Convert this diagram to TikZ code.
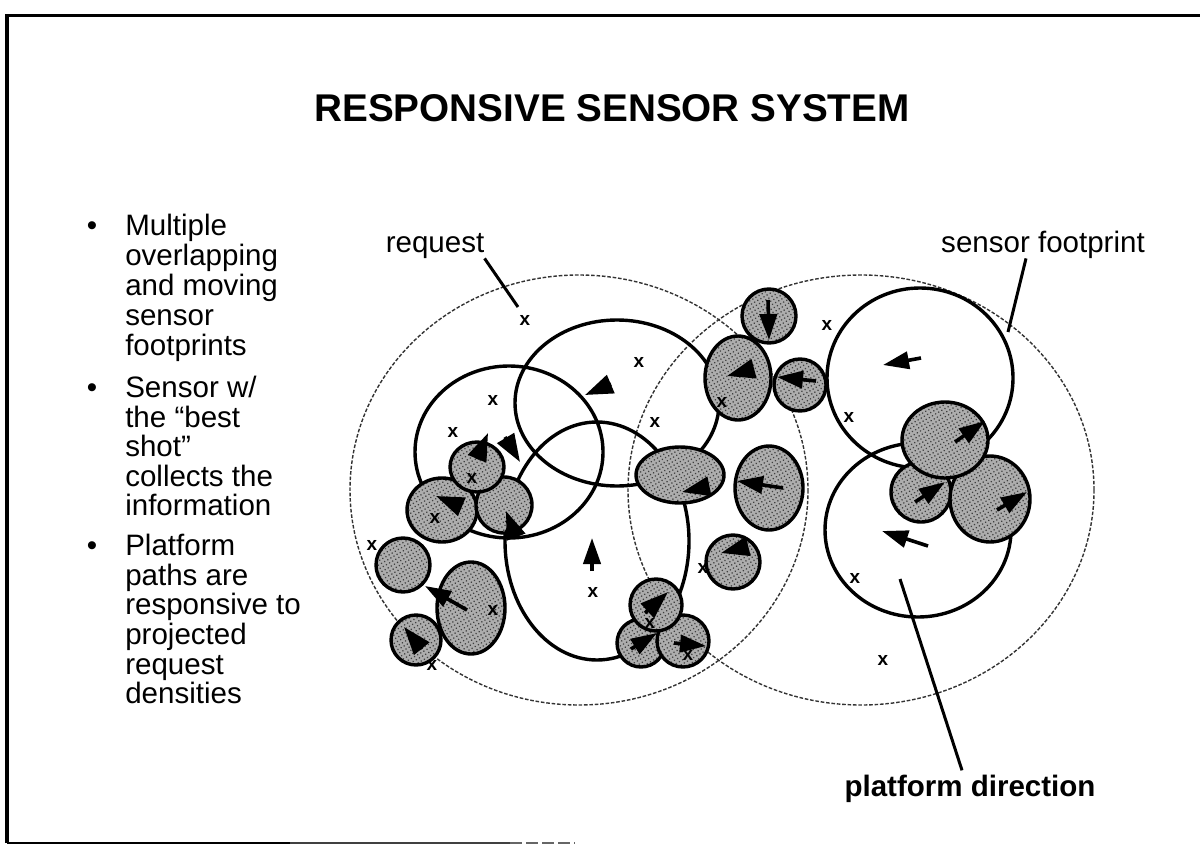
\documentclass[tikz,border=0pt]{standalone}
\usepackage{fontspec}
\setmainfont{Liberation Sans}
\usetikzlibrary{arrows.meta,calc,patterns.meta}
\begin{document}
\begin{tikzpicture}[x=0.025cm,y=-0.025cm,
  bigc/.style={draw=black!80,line width=0.35mm,dash pattern=on 0.9mm off 0.45mm},
  foot/.style={draw=black,line width=0.85mm},
  shd/.style={draw=black,line width=0.85mm,preaction={fill=black!32},
    pattern={Dots[radius=0.22mm,distance=0.9mm,angle=30]},pattern color=black!75},
  arr/.style={line width=0.9mm,-{Triangle[length=6.5mm,width=4.3mm]}},
  tri/.style={line width=0.9mm,-{Triangle[length=7mm,width=4.8mm]}},
  ptr/.style={line width=0.75mm},
  xm/.style={font=\fontsize{13.5pt}{13.5pt}\selectfont\bfseries,inner sep=0pt},
  body/.style={font=\fontsize{21pt}{21pt}\selectfont,inner sep=0pt,anchor=base west},
  bul/.style={font=\fontsize{21pt}{21pt}\selectfont,inner sep=0pt,anchor=base},
  lab/.style={font=\fontsize{21pt}{21pt}\selectfont,inner sep=0pt,anchor=base},
]
\useasboundingbox (0,0) rectangle (1200,846);
\fill[white] (0,0) rectangle (1200,846);
% frame
\draw[line width=0.75mm] (7,843) -- (7,16) -- (1200,16);
\draw[line width=0.6mm] (7,843) -- (290,843);
\draw[line width=0.45mm,black!75] (290,843) -- (510,843);
\draw[line width=0.4mm,black!60,dash pattern=on 3mm off 1mm] (510,843) -- (575,843);

% big footprint areas
\draw[bigc] (579,490) ellipse [x radius=229, y radius=215];
\draw[bigc] (861,490) ellipse [x radius=233, y radius=215];

% sensor footprints
\draw[foot] (509,452) ellipse [x radius=94, y radius=86];
\draw[foot] (617,403) ellipse [x radius=102, y radius=83];
\draw[foot] (597,541) ellipse [x radius=92, y radius=119];
\draw[foot] (920,378) ellipse [x radius=93, y radius=90];
\draw[foot] (918,530) ellipse [x radius=93, y radius=87];

% shaded sensors
\draw[shd] (442,510) ellipse [x radius=35, y radius=32];
\draw[shd] (504,505) ellipse [x radius=28, y radius=28];
\draw[shd] (477,467) ellipse [x radius=27, y radius=25];
\draw[shd] (403,565) ellipse [x radius=27, y radius=27];
\draw[shd] (471,608) ellipse [x radius=34, y radius=46];
\draw[shd] (416,640) ellipse [x radius=25, y radius=25];
\draw[shd] (641,643) ellipse [x radius=24, y radius=24];
\draw[shd] (683,641) ellipse [x radius=26, y radius=26];
\draw[shd] (656,605) ellipse [x radius=26, y radius=26];
\draw[shd] (680,475) ellipse [x radius=44, y radius=28];
\draw[shd] (769,488) ellipse [x radius=34, y radius=42];
\draw[shd] (733,562) ellipse [x radius=27, y radius=27];
\draw[shd] (769,316) ellipse [x radius=27, y radius=27];
\draw[shd] (738,378) ellipse [x radius=33, y radius=42];
\draw[shd] (800,385) ellipse [x radius=26, y radius=26];
\draw[shd] (921,492) ellipse [x radius=30, y radius=30];
\draw[shd] (990,499) ellipse [x radius=40, y radius=43];
\draw[shd] (945,440) ellipse [x radius=43, y radius=38];

% direction arrows (heads only)
\draw[tri] (611,384) -- (585,395);
\draw[tri] (505,437) -- (520,462);
\draw[tri] (477,459) -- (488,433);
\draw[tri] (460,506) -- (436,496);
\draw[tri] (516,537) -- (506,511);
\draw[tri] (422,649) -- (404,627);
\draw[tri] (645,613) -- (668,592);
\draw[tri] (706,487) -- (682,492);
\draw[tri] (745,547) -- (721,553);
\draw[tri] (753,369) -- (727,376);
% direction arrows (with shafts)
\draw[arr] (467,610) -- (425,586);
\draw[arr] (592,571) -- (592,538);
\draw[arr] (631,649) -- (657,633);
\draw[arr] (674,643) -- (706,646);
\draw[arr] (783,488) -- (737,481);
\draw[arr] (768,300) -- (769,340);
\draw[arr] (816,381) -- (777,377);
\draw[arr] (921,358) -- (883,365);
\draw[arr] (955,442) -- (985,421);
\draw[arr] (915,502) -- (945,482);
\draw[arr] (997,510) -- (1027,492);
\draw[arr] (928,546) -- (882,531);

% requests
\foreach \px/\py [count=\k] in {525/320,639/362,493/400,453/432,655/422,472/478,435/518,
  827/325,849/417,722/402,372/545,493/610,432/665,593/592,650/623,688/655,703/568,
  855/578,883/660,510/526}
  \node[xm] (x\k) at (\px,\py) {x};

% labels and pointers
\node[lab] (req) at (435,252) {request};
\coordinate (reqend) at (518,307);
\draw[ptr] (req.south east) -- (reqend);

\node[lab] (sf) at (1043,252) {sensor footprint};
\coordinate (sfend) at (1008,332);
\draw[ptr] ($(sf.south)+(-17,0)$) -- (sfend);

\node[lab,font=\fontsize{21pt}{21pt}\selectfont\bfseries] (pd) at (970,796) {platform direction};
\coordinate (pdstart) at (900,579);
\draw[ptr] (pdstart) -- ($(pd.north)+(-8,-4)$);

% title
\node[anchor=base,inner sep=0pt,font=\fontsize{27.5pt}{28pt}\selectfont\bfseries] (title) at (612,122) {RESPONSIVE SENSOR SYSTEM};

% bullet text
\node[bul] (b1) at (92,235) {•};
\node[bul] (b2) at (92,397) {•};
\node[bul] (b3) at (92,555) {•};
\node[body] (t1) at (125,235) {Multiple};
\node[body] (t2) at (125,265) {overlapping};
\node[body] (t3) at (125,295) {and moving};
\node[body] (t4) at (125,325) {sensor};
\node[body] (t5) at (125,355) {footprints};
\node[body] (t6) at (125,397) {Sensor w/};
\node[body] (t7) at (125,427) {the “best};
\node[body] (t8) at (125,456) {shot”};
\node[body] (t9) at (125,486) {collects the};
\node[body] (t10) at (125,515) {information};
\node[body] (t11) at (125,555) {Platform};
\node[body] (t12) at (125,585) {paths are};
\node[body] (t13) at (125,614) {responsive to};
\node[body] (t14) at (125,644) {projected};
\node[body] (t15) at (125,674) {request};
\node[body] (t16) at (125,703) {densities};
\end{tikzpicture}
\end{document}
